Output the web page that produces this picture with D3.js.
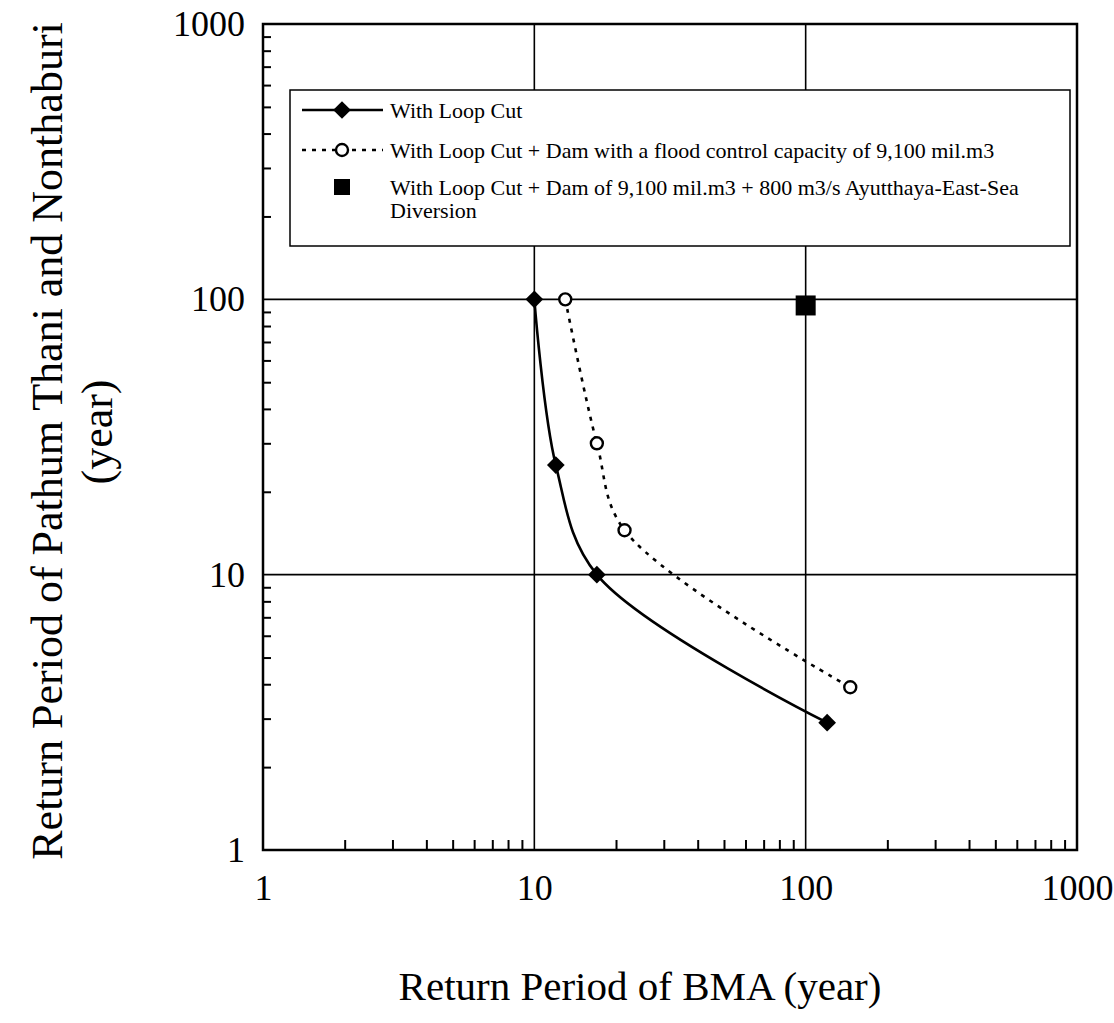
<!DOCTYPE html>
<html><head>
<meta charset="utf-8">
<title>Return period chart</title>
<script src="https://d3js.org/d3.v7.min.js"></script>
<style>
  body { margin: 0; background: #fff; }
  text { font-family: "Liberation Serif", "Times New Roman", serif; fill: #000; }
  .grid { stroke: #000; stroke-width: 1.6px; }
  .frame { fill: none; stroke: #000; stroke-width: 2.5px; }
  .minor line { stroke: #000; stroke-width: 2px; }
  .minor path { display: none; }
  .labels path, .labels line { display: none; }
</style>
</head>
<body>
<svg id="chart" width="1114" height="1023"></svg>
<script>

// data
const loopCutX = [10, 12, 17, 120];
const loopCutY = [100, 25, 10, 2.9];

const damX = [13, 17, 21.5, 146];
const damY = [100, 30, 14.5, 3.9];

const diversionX = [100];
const diversionY = [95];

const tickLabels = [1, 10, 100, 1000];
const gridValues = [10, 100];

const legendNames = [
  "With Loop Cut",
  "With Loop Cut + Dam with a flood control capacity of 9,100 mil.m3",
  "With Loop Cut + Dam of 9,100 mil.m3 + 800 m3/s Ayutthaya-East-Sea",
  "Diversion"
];

var svg = d3.select("#chart");

// plot box (don't call it "top", that clashes with window.top)
var pLeft = 263, pRight = 1077, pTop = 24, pBottom = 850;

var x = d3.scaleLog().domain([1, 1000]).range([pLeft, pRight]);
var y = d3.scaleLog().domain([1, 1000]).range([pBottom, pTop]);

// grid lines at the inner decades
svg.selectAll(".gx").data(gridValues).enter().append("line")
  .attr("class", "grid")
  .attr("x1", d => x(d)).attr("x2", d => x(d))
  .attr("y1", pTop).attr("y2", pBottom);
svg.selectAll(".gy").data(gridValues).enter().append("line")
  .attr("class", "grid")
  .attr("y1", d => y(d)).attr("y2", d => y(d))
  .attr("x1", pLeft).attr("x2", pRight);

// minor ticks pointing inwards, left and bottom only
var minorX = x.ticks().filter(d => tickLabels.indexOf(d) < 0);
var minorY = y.ticks().filter(d => tickLabels.indexOf(d) < 0);

svg.append("g").attr("class", "minor")
  .attr("transform", "translate(0," + pBottom + ")")
  .call(d3.axisBottom(x).tickValues(minorX).tickSize(-10).tickFormat(""));
svg.append("g").attr("class", "minor")
  .attr("transform", "translate(" + pLeft + ",0)")
  .call(d3.axisLeft(y).tickValues(minorY).tickSize(-8).tickFormat(""));

// tick labels
var xl = svg.append("g").attr("class", "labels")
  .attr("transform", "translate(0," + pBottom + ")")
  .call(d3.axisBottom(x).tickValues(tickLabels).tickSize(0).tickPadding(24).tickFormat(d3.format("d")));
xl.selectAll("text").attr("font-size", 36);

var yl = svg.append("g").attr("class", "labels")
  .attr("transform", "translate(" + pLeft + ",0)")
  .call(d3.axisLeft(y).tickValues(tickLabels).tickSize(0).tickPadding(18).tickFormat(d3.format("d")));
yl.selectAll("text").attr("font-size", 36);

// frame
svg.append("rect").attr("class", "frame")
  .attr("x", pLeft).attr("y", pTop)
  .attr("width", pRight - pLeft).attr("height", pBottom - pTop);

// series
var lineGen = d3.line()
  .x(d => x(d[0])).y(d => y(d[1]))
  .curve(d3.curveCatmullRom.alpha(0.5));

var loopCut = loopCutX.map((v, i) => [v, loopCutY[i]]);
var dam = damX.map((v, i) => [v, damY[i]]);
var diversion = diversionX.map((v, i) => [v, diversionY[i]]);

svg.append("path").datum(loopCut)
  .attr("d", lineGen)
  .attr("fill", "none").attr("stroke", "#000").attr("stroke-width", 2.6);

svg.append("path").datum(dam)
  .attr("d", lineGen)
  .attr("fill", "none").attr("stroke", "#000").attr("stroke-width", 2.6)
  .attr("stroke-dasharray", "4,6");

var diamond = d3.symbol().type(d3.symbolDiamond2).size(200);
svg.selectAll(".dia").data(loopCut).enter().append("path")
  .attr("d", diamond)
  .attr("transform", d => "translate(" + x(d[0]) + "," + y(d[1]) + ")")
  .attr("fill", "#000");

svg.selectAll(".circ").data(dam).enter().append("circle")
  .attr("cx", d => x(d[0])).attr("cy", d => y(d[1]))
  .attr("r", 6).attr("fill", "#fff").attr("stroke", "#000").attr("stroke-width", 2.4);

svg.selectAll(".sq").data(diversion).enter().append("rect")
  .attr("x", d => x(d[0]) - 10).attr("y", d => y(d[1]) - 10)
  .attr("width", 20).attr("height", 20).attr("fill", "#000");

// legend box
var lg = svg.append("g");
lg.append("rect")
  .attr("x", 290).attr("y", 90).attr("width", 780).attr("height", 156)
  .attr("fill", "#fff").attr("stroke", "#000").attr("stroke-width", 1.5);

var rowY = [110, 150, 187, 210];

lg.append("line").attr("x1", 302).attr("x2", 383).attr("y1", rowY[0]).attr("y2", rowY[0])
  .attr("stroke", "#000").attr("stroke-width", 2.4);
lg.append("path").attr("d", diamond).attr("transform", "translate(342," + rowY[0] + ")");

lg.append("line").attr("x1", 302).attr("x2", 383).attr("y1", rowY[1]).attr("y2", rowY[1])
  .attr("stroke", "#000").attr("stroke-width", 2.4).attr("stroke-dasharray", "4,6");
lg.append("circle").attr("cx", 342).attr("cy", rowY[1]).attr("r", 6)
  .attr("fill", "#fff").attr("stroke", "#000").attr("stroke-width", 2.4);

lg.append("rect").attr("x", 334).attr("y", rowY[2] - 8).attr("width", 16).attr("height", 16);

lg.selectAll(".lt").data(legendNames).enter().append("text")
  .attr("x", 390).attr("y", (d, i) => rowY[i])
  .attr("dy", "0.35em")
  .attr("font-size", 22)
  .text(d => d);

// axis titles
svg.append("text")
  .attr("x", 640).attr("y", 1000)
  .attr("text-anchor", "middle").attr("font-size", 41)
  .text("Return Period of BMA (year)");

svg.append("text")
  .attr("transform", "translate(62,441) rotate(-90)")
  .attr("text-anchor", "middle").attr("font-size", 44)
  .text("Return Period of Pathum Thani and Nonthaburi");
svg.append("text")
  .attr("transform", "translate(112,432) rotate(-90)")
  .attr("text-anchor", "middle").attr("font-size", 44)
  .text("(year)");

</script>
</body>
</html>
